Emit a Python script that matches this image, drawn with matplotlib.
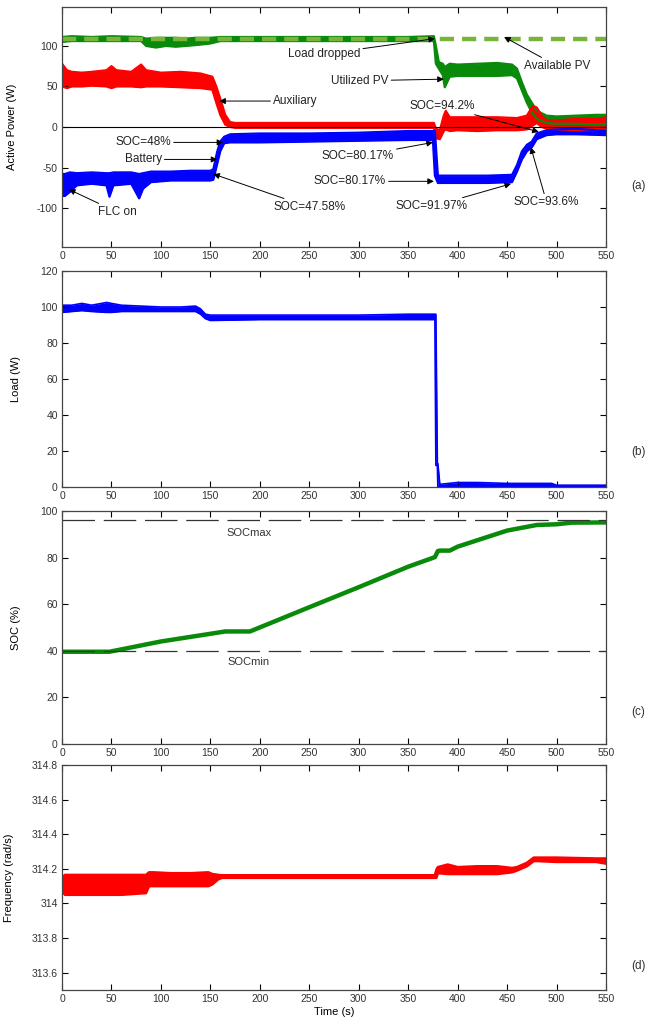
import numpy as np
import matplotlib
matplotlib.use('Agg')
import matplotlib.pyplot as plt

plt.rcParams['font.family'] = ['Liberation Sans', 'DejaVu Sans']
plt.rcParams['axes.unicode_minus'] = False

# ---- (a) active power, bands (time, lower, upper) ----
pv_t = [0, 10, 30, 50, 80, 85, 95, 105, 115, 125, 135, 150, 160, 200, 250, 300, 350, 376,
        378, 381, 385, 387, 392, 400, 420, 440, 455, 460, 465, 470, 475, 480, 490, 500, 520, 540, 550]
pv_lo = [105, 106, 106, 106, 106, 100, 98, 100, 99, 100, 101, 103, 106, 106, 106, 106, 106, 106,
         78, 72, 64, 49, 62, 63, 63, 63, 64, 60, 45, 30, 18, 10, 5, 4, 4, 3, 4]
pv_hi = [111, 112, 111, 112, 111, 109, 110, 110, 110, 109, 110, 110, 111, 111, 111, 111, 111, 112,
         100, 80, 78, 74, 78, 77, 78, 79, 77, 72, 55, 40, 30, 20, 14, 13, 14, 15, 15]

avail_t = [0, 550]
avail_p = [108.5, 108.5]

aux_t = [0, 5, 10, 20, 30, 45, 50, 55, 70, 80, 85, 100, 120, 140, 152, 156, 160, 165, 170, 175,
         200, 250, 300, 350, 376, 378, 382, 386, 388, 392, 400, 420, 440, 460, 470, 476, 480, 485,
         490, 500, 520, 540, 550]
aux_lo = [50, 48, 50, 50, 51, 50, 48, 50, 50, 49, 50, 50, 49, 48, 46, 30, 15, 3, 0, -1,
          -1, -1, -1, -1, -1, -14, -15, -5, -3, -5, -4, -5, -4, -4, -3, 2, 5, 0,
          -2, -3, -4, -4, -4]
aux_hi = [78, 70, 68, 67, 68, 70, 75, 70, 68, 77, 70, 67, 68, 66, 62, 50, 35, 15, 6, 5,
          5, 5, 5, 5, 5, -2, -4, 14, 20, 12, 12, 12, 12, 11, 14, 26, 24, 14,
          8, 8, 10, 10, 12]

bat_t = [0, 3, 8, 15, 30, 45, 48, 52, 70, 78, 82, 90, 110, 130, 150, 153, 157, 160, 164, 170,
         200, 250, 300, 350, 375, 377, 380, 400, 430, 455, 460, 465, 470, 475, 480, 490, 500, 520, 550]
bat_lo = [-85, -85, -80, -72, -70, -72, -86, -72, -70, -88, -76, -68, -66, -66, -66, -65, -45, -30, -20, -19,
          -19, -18, -17, -16, -16, -60, -69, -69, -69, -68, -55, -40, -30, -25, -15, -10, -9, -9, -10]
bat_hi = [-58, -58, -56, -57, -56, -57, -57, -56, -56, -58, -57, -55, -55, -54, -54, -52, -30, -18, -12, -9,
          -8, -8, -7, -5, -5, -5, -60, -60, -60, -59, -47, -30, -22, -18, -8, -4, -3, -2, -5]

# annotations: text, arrow target, text position
notes_a = [
    ('Load dropped', (377, 109), (265, 90)),
    ('Auxiliary', (159, 32), (236, 32)),
    ('SOC=48%', (163, -19), (82, -19)),
    ('Battery', (157, -40), (82, -40)),
    ('SOC=47.58%', (153, -58), (250, -99)),
    ('FLC on', (7, -77), (56, -105)),
    ('Available PV', (447, 111), (501, 75)),
    ('Utilized PV', (386, 59), (301, 57)),
    ('SOC=94.2%', (482, -6), (384, 26)),
    ('SOC=80.17%', (375, -19), (299, -36)),
    ('SOC=80.17%', (376, -67), (291, -67)),
    ('SOC=91.97%', (454, -70), (374, -98)),
    ('SOC=93.6%', (474, -25), (490, -93)),
]

# ---- (b) load ----
load_t = [0, 10, 20, 30, 45, 50, 60, 80, 100, 120, 135, 140, 145, 150, 200, 250, 300, 350,
          377, 378, 379.5, 380, 382, 400, 420, 450, 495, 500, 550]
load_lo = [97, 97.5, 98, 97.5, 97, 97, 97.5, 97.5, 97.5, 97.5, 97.5, 96, 93.5, 92.5, 93, 93, 93, 93,
           93, 12, 12, 0, 0, 0.3, 0.3, 0.3, 0.3, 0, 0]
load_hi = [101, 101, 102, 101, 102.5, 102, 101, 100.5, 100, 100, 100.5, 99, 96, 95.5, 95.5, 95.5, 95.5, 96,
           96, 96, 13, 13, 1.5, 2.5, 2.5, 2, 2, 1, 1]

# ---- (c) state of charge ----
soc_t = [0, 48, 100, 150, 165, 190, 250, 300, 350, 377, 380, 382, 392, 400, 450, 480, 500, 515, 550]
soc = [39.6, 39.6, 44, 47.3, 48.3, 48.3, 58.7, 67.3, 76.1, 80.2, 82.8, 83, 83, 84.7, 91.6, 94, 94.3, 95, 95.1]
soc_max = 96
soc_min = 39.7

# ---- (d) frequency ----
fr_t = [0, 3, 20, 40, 60, 85, 88, 92, 110, 130, 148, 152, 158, 162, 200, 300, 377, 378.5, 380, 390,
        400, 420, 440, 455, 460, 470, 477, 480, 500, 540, 550]
fr_lo = [314.07, 314.05, 314.05, 314.05, 314.05, 314.06, 314.1, 314.1, 314.1, 314.1, 314.1, 314.11,
         314.14, 314.148, 314.148, 314.148, 314.148, 314.148, 314.175, 314.17, 314.17, 314.17, 314.17,
         314.18, 314.19, 314.215, 314.245, 314.245, 314.24, 314.24, 314.23]
fr_hi = [314.15, 314.165, 314.165, 314.165, 314.165, 314.165, 314.18, 314.18, 314.175, 314.175, 314.18,
         314.17, 314.165, 314.163, 314.163, 314.163, 314.163, 314.195, 314.21, 314.225, 314.21, 314.215,
         314.215, 314.205, 314.21, 314.235, 314.265, 314.265, 314.265, 314.26, 314.26]

xticks = np.arange(0, 551, 50)
RED, BLUE, GREEN, LGREEN = '#ff0000', '#0000ff', '#0a8a0a', '#79b43a'
W, H = 645, 1027


def add_axes(top, bottom):
    left, right = 62, 606
    ax = fig.add_axes([left / W, 1 - bottom / H, (right - left) / W, (bottom - top) / H])
    ax.set_xlim(0, 550)
    ax.set_xticks(xticks)
    ax.tick_params(direction='in', length=4, width=0.8, top=True, right=True,
                   labelsize=7.5, labelcolor='#333333', pad=3)
    for s in ax.spines.values():
        s.set_color('#444444')
        s.set_linewidth(0.9)
    return ax


def band(ax, t, lo, hi, color, lw=1.6):
    ax.fill_between(t, lo, hi, color=color, lw=0)
    ax.plot(t, lo, color=color, lw=lw)
    ax.plot(t, hi, color=color, lw=lw)


fig = plt.figure(figsize=(W / 100, H / 100), dpi=100)

# (a)
ax1 = add_axes(7, 247)
band(ax1, pv_t, pv_lo, pv_hi, GREEN)
ax1.plot(avail_t, avail_p, color=LGREEN, lw=3.2, dashes=(3.2, 1.8))
band(ax1, aux_t, aux_lo, aux_hi, RED)
band(ax1, bat_t, bat_lo, bat_hi, BLUE)
ax1.axhline(0, color='k', lw=0.8)
ax1.set_ylim(-148, 148)
ax1.set_yticks([-100, -50, 0, 50, 100])
ax1.set_ylabel('Active Power (W)', fontsize=8)
ax1.yaxis.set_label_coords(-0.082, 0.5)
for txt, xy, xyt in notes_a:
    ax1.annotate(txt, xy=xy, xytext=xyt, ha='center', va='center', fontsize=8.5, color='#222222',
                 arrowprops=dict(arrowstyle='-|>', color='k', lw=0.7, mutation_scale=9,
                                 shrinkA=0, shrinkB=0))

# (b)
ax2 = add_axes(271, 487)
band(ax2, load_t, load_lo, load_hi, BLUE, lw=1.2)
ax2.set_ylim(0, 120)
ax2.set_yticks(np.arange(0, 121, 20))
ax2.set_ylabel('Load (W)', fontsize=8)
ax2.yaxis.set_label_coords(-0.075, 0.5)

# (c)
ax3 = add_axes(511, 744)
ax3.plot(soc_t, soc, color=GREEN, lw=3.2, solid_capstyle='butt')
ax3.axhline(soc_max, color='#333333', lw=0.9, dashes=(26, 7))
ax3.axhline(soc_min, color='#333333', lw=0.9, dashes=(26, 7))
ax3.text(189, 90.6, 'SOCmax', ha='center', va='center', fontsize=8, color='#333333')
ax3.text(189, 35, 'SOCmin', ha='center', va='center', fontsize=8, color='#333333')
ax3.set_ylim(0, 100)
ax3.set_yticks(np.arange(0, 101, 20))
ax3.set_ylabel('SOC (%)', fontsize=8)
ax3.yaxis.set_label_coords(-0.075, 0.5)

# (d)
ax4 = add_axes(765, 990)
band(ax4, fr_t, fr_lo, fr_hi, RED, lw=1.8)
ax4.set_ylim(313.5, 314.8)
ax4.set_yticks([313.6, 313.8, 314.0, 314.2, 314.4, 314.6, 314.8])
ax4.set_yticklabels(['313.6', '313.8', '314', '314.2', '314.4', '314.6', '314.8'])
ax4.set_ylabel('Frequency (rad/s)', fontsize=8)
ax4.yaxis.set_label_coords(-0.088, 0.5)
ax4.set_xlabel('Time (s)', fontsize=8, labelpad=2)

for lab, y in [('(a)', 186), ('(b)', 452), ('(c)', 712), ('(d)', 966)]:
    fig.text(638 / W, 1 - y / H, lab, ha='center', va='center', fontsize=8.5, color='#333333')

fig.savefig('out.png', dpi=100)
